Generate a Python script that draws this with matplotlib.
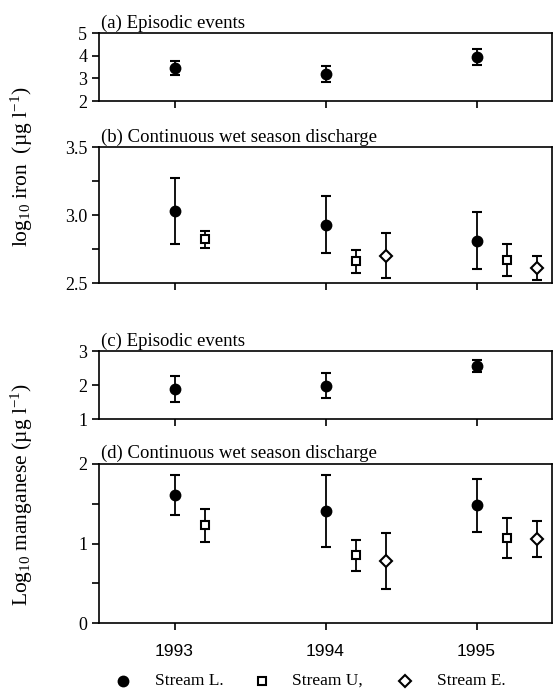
import matplotlib
matplotlib.use("Agg")
import matplotlib.pyplot as plt
from matplotlib.lines import Line2D
import numpy as np

# data
years = [1993, 1994, 1995]
offset_L, offset_U, offset_E = 0.0, 0.2, 0.4

# (a) iron, episodic events, stream L
fe_epi_L = [3.45, 3.19, 3.93]
fe_epi_L_err = [0.30, 0.35, 0.35]

# (b) iron, continuous wet season discharge
fe_wet_L = [3.03, 2.93, 2.81]
fe_wet_L_err = [0.24, 0.21, 0.21]
fe_wet_U_years = [1993, 1994, 1995]
fe_wet_U = [2.82, 2.66, 2.67]
fe_wet_U_err = [0.06, 0.085, 0.12]
fe_wet_E_years = [1994, 1995]
fe_wet_E = [2.70, 2.61]
fe_wet_E_err = [0.165, 0.085]

# (c) manganese, episodic events, stream L
mn_epi_L = [1.88, 1.98, 2.56]
mn_epi_L_err = [0.38, 0.375, 0.17]

# (d) manganese, continuous wet season discharge
mn_wet_L = [1.61, 1.41, 1.48]
mn_wet_L_err = [0.255, 0.45, 0.335]
mn_wet_U_years = [1993, 1994, 1995]
mn_wet_U = [1.23, 0.85, 1.07]
mn_wet_U_err = [0.205, 0.20, 0.25]
mn_wet_E_years = [1994, 1995]
mn_wet_E = [0.78, 1.06]
mn_wet_E_err = [0.35, 0.225]

serif = "Liberation Serif"
sans = "Liberation Sans"
plt.rcParams["mathtext.fontset"] = "custom"
plt.rcParams["mathtext.rm"] = serif
plt.rcParams["mathtext.it"] = serif + ":italic"

W, H = 553, 689
fig = plt.figure(figsize=(W / 100, H / 100), dpi=100)


def make_ax(top, bottom):
    ax = fig.add_axes([99 / W, (H - bottom) / H, 453 / W, (bottom - top) / H])
    for s in ax.spines.values():
        s.set_linewidth(1.2)
    ax.set_xlim(1992.5, 1995.5)
    ax.set_xticks(years)
    ax.tick_params(axis="both", which="both", direction="out", length=5,
                   width=1.2, labelsize=13)
    return ax


def pts(ax, x, y, err, marker, face, ms):
    ax.errorbar(x, y, yerr=err, fmt=marker, mfc=face, mec="black", ms=ms,
                mew=1.5, ecolor="black", elinewidth=1.3, capsize=3.5,
                capthick=1.3, clip_on=False)


ax_a = make_ax(33, 101)
ax_b = make_ax(147, 283)
ax_c = make_ax(351, 419)
ax_d = make_ax(464, 623)

# panel a
pts(ax_a, np.array(years) + offset_L, fe_epi_L, fe_epi_L_err, "o", "black", 7)
ax_a.set_ylim(2, 5)
ax_a.set_yticks([2, 3, 4, 5])

# panel b
pts(ax_b, np.array(years) + offset_L, fe_wet_L, fe_wet_L_err, "o", "black", 7)
pts(ax_b, np.array(fe_wet_U_years) + offset_U, fe_wet_U, fe_wet_U_err, "s", "white", 6)
pts(ax_b, np.array(fe_wet_E_years) + offset_E, fe_wet_E, fe_wet_E_err, "D", "white", 6)
ax_b.set_ylim(2.5, 3.5)
ax_b.set_yticks([2.5, 3.0, 3.5])
ax_b.set_yticks([2.75, 3.25], minor=True)
ax_b.set_yticklabels(["2.5", "3.0", "3.5"])

# panel c
pts(ax_c, np.array(years) + offset_L, mn_epi_L, mn_epi_L_err, "o", "black", 7)
ax_c.set_ylim(1, 3)
ax_c.set_yticks([1, 2, 3])

# panel d
pts(ax_d, np.array(years) + offset_L, mn_wet_L, mn_wet_L_err, "o", "black", 7)
pts(ax_d, np.array(mn_wet_U_years) + offset_U, mn_wet_U, mn_wet_U_err, "s", "white", 6)
pts(ax_d, np.array(mn_wet_E_years) + offset_E, mn_wet_E, mn_wet_E_err, "D", "white", 6)
ax_d.set_ylim(0, 2)
ax_d.set_yticks([0, 1, 2])
ax_d.set_yticks([0.5, 1.5], minor=True)

for ax in (ax_a, ax_b, ax_c, ax_d):
    for lab in ax.get_yticklabels():
        lab.set_family(serif)
for ax in (ax_a, ax_b, ax_c):
    ax.set_xticklabels([])
ax_d.set_xticklabels([str(y) for y in years], family=sans, fontsize=12.5)
ax_d.tick_params(axis="x", pad=10)

titles = [(ax_a, "(a) Episodic events"),
          (ax_b, "(b) Continuous wet season discharge"),
          (ax_c, "(c) Episodic events"),
          (ax_d, "(d) Continuous wet season discharge")]
for ax, t in titles:
    ax.text(0.005, 1.01, t, transform=ax.transAxes, ha="left", va="bottom",
            family=serif, fontsize=13.5)

fig.text(22 / W, 1 - 167 / H, "log$_{10}$ iron  (µg l$^{-1}$)",
         rotation=90, ha="center", va="center", family=serif, fontsize=15.5)
fig.text(22 / W, 1 - 494 / H, "Log$_{10}$ manganese (µg l$^{-1}$)",
         rotation=90, ha="center", va="center", family=serif, fontsize=15.5)

# legend row
leg_y = 1 - 681 / H
legend_items = [(123, "o", "black", 7, 155, "Stream L."),
                (262, "s", "white", 6, 292, "Stream U,"),
                (405, "D", "white", 6, 437, "Stream E.")]
for mx, mk, fc, ms, tx, label in legend_items:
    fig.add_artist(Line2D([mx / W], [leg_y], marker=mk, mfc=fc, mec="black",
                          ms=ms, mew=1.5, ls="none", transform=fig.transFigure))
    fig.text(tx / W, leg_y, label, ha="left", va="center", family=serif,
             fontsize=12.5)

fig.savefig("out.png", dpi=100)
